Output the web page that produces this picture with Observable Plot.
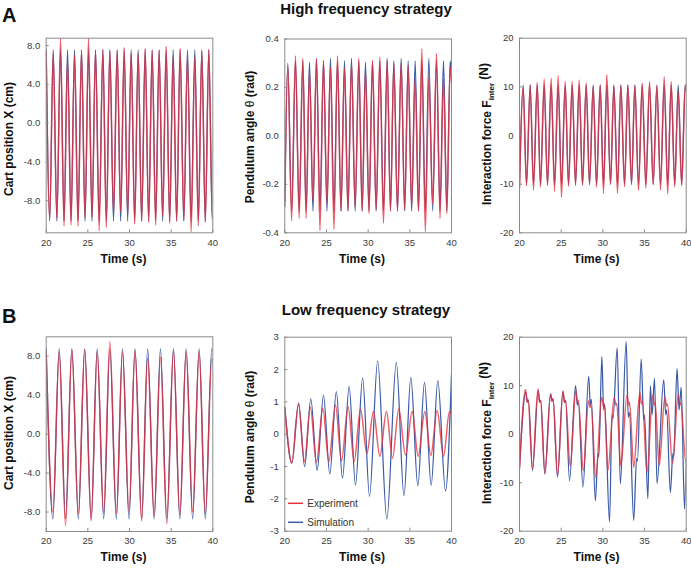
<!DOCTYPE html>
<html><head><meta charset="utf-8">
<script src="https://cdn.jsdelivr.net/npm/d3@7"></script>
<script src="https://cdn.jsdelivr.net/npm/@observablehq/plot@0.6"></script>
<style>
body{margin:0;background:#fff;}
#chart{position:relative;width:691px;height:568px;background:#fff;overflow:hidden;}
#chart svg{position:absolute;left:0;top:0;}
</style></head><body><div id="chart"></div>
<script>
// ---------- Data (extrema) ----------
const xTicks = [20, 25, 30, 35, 40];

// A1 cart position, high frequency
const a1Time = [20.00,20.42,20.84,21.28,21.72,22.14,22.56,22.98,23.40,23.82,24.24,24.66,25.08,25.50,25.92,26.36,26.80,27.22,27.64,28.08,28.52,28.94,29.36,29.78,30.20,30.62,31.04,31.46,31.88,32.30,32.72,33.14,33.56,33.98,34.40,34.82,35.24,35.66,36.08,36.52,36.96,37.40,37.84,38.26,38.68,39.10,39.52,39.94,40.00];
const a1Exp = [7.3,-9.8,7.2,-9.8,8.75,-10.6,6.5,-10.5,7.0,-10.6,7.5,-9.8,8.75,-9.7,7.5,-11.1,7.6,-10.7,7.5,-9.3,7.5,-9.2,7.8,-9.4,7.2,-10.4,7.2,-10.1,7.7,-10.2,7.5,-10.5,7.5,-9.6,7.9,-10.3,6.8,-10.1,7.7,-10.0,6.8,-11.2,6.7,-10.6,7.4,-10.2,7.6,-9.8,-9.6];
const a1Sim = [7.55,-10.1,7.55,-10.1,7.55,-10.1,7.55,-10.1,7.55,-10.1,7.55,-10.1,7.55,-10.1,7.55,-10.1,7.55,-10.1,7.55,-10.1,7.55,-10.1,7.55,-10.1,7.55,-10.1,7.55,-10.1,7.55,-10.1,7.55,-10.1,7.55,-10.1,7.55,-10.1,7.55,-10.1,7.55,-10.1,7.55,-10.1,7.55,-10.1,7.55,-10.1,7.55,-10.1,-10.0];

// A2 pendulum angle, high frequency
const a2Time = [20.00,20.36,20.82,21.28,21.72,22.16,22.56,22.96,23.38,23.80,24.22,24.64,25.06,25.48,25.90,26.32,26.74,27.16,27.58,28.00,28.44,28.88,29.28,29.68,30.10,30.52,30.96,31.40,31.84,32.28,32.68,33.08,33.52,33.96,34.38,34.80,35.22,35.64,36.04,36.44,36.86,37.28,37.74,38.20,38.62,39.04,39.44,39.84,40.00];
const a2Exp = [-0.27,0.29,-0.35,0.33,-0.34,0.32,-0.34,0.27,-0.27,0.32,-0.39,0.31,-0.275,0.285,-0.385,0.33,-0.31,0.28,-0.31,0.30,-0.29,0.32,-0.31,0.27,-0.32,0.31,-0.305,0.325,-0.36,0.31,-0.31,0.30,-0.31,0.30,-0.305,0.29,-0.29,0.236,-0.31,0.36,-0.395,0.24,-0.28,0.34,-0.34,0.236,-0.32,0.285,0.22];
const a2Sim = [-0.29,0.30,-0.31,0.31,-0.31,0.31,-0.31,0.305,-0.31,0.32,-0.31,0.31,-0.31,0.32,-0.31,0.31,-0.31,0.31,-0.31,0.32,-0.31,0.31,-0.31,0.305,-0.31,0.31,-0.31,0.31,-0.31,0.32,-0.31,0.31,-0.31,0.32,-0.31,0.31,-0.31,0.31,-0.31,0.31,-0.31,0.32,-0.31,0.31,-0.31,0.31,-0.31,0.31,0.24];

// A3 interaction force, high frequency
const a3Time = [20.00,20.44,20.84,21.28,21.68,22.12,22.52,22.96,23.36,23.80,24.20,24.64,25.04,25.48,25.88,26.32,26.72,27.16,27.56,28.00,28.40,28.84,29.24,29.68,30.08,30.48,30.92,31.32,31.76,32.16,32.60,33.00,33.44,33.84,34.28,34.72,35.16,35.60,36.04,36.48,36.92,37.36,37.78,38.20,38.62,39.04,39.46,39.88,40.00];
const a3Exp = [-10.8,9.7,-10.3,10.4,-11.2,10.9,-10.6,11.6,-10.3,11.8,-11.5,12.3,-12.7,11.1,-10.5,11.1,-10.3,11.4,-10.3,10.8,-10.1,10.1,-10.6,10.4,-11.9,12.5,-10.0,10.1,-11.9,10.4,-10.5,10.4,-10.0,10.4,-11.3,10.8,-10.8,11.1,-10.1,10.2,-11.2,12.1,-12.0,11.1,-10.6,9.0,-10.3,10.4,9.0];
const a3Sim = [-10.3,10.4,-10.1,10.4,-10.1,10.4,-10.1,10.4,-10.1,10.4,-10.1,10.4,-10.1,10.4,-10.1,10.4,-10.1,10.4,-10.1,10.4,-10.1,10.4,-10.1,10.4,-10.1,10.4,-10.1,10.4,-10.1,10.4,-10.1,10.4,-10.1,10.4,-10.1,10.4,-10.1,10.4,-10.1,10.4,-10.1,10.4,-10.1,10.4,-10.1,10.4,-10.1,10.4,9.2];

// B1 cart position, low frequency
const b1Time = [20.00,20.80,21.56,22.32,23.08,23.86,24.62,25.40,26.12,26.90,27.64,28.42,29.16,29.94,30.66,31.46,32.18,32.96,33.72,34.48,35.28,36.04,36.80,37.58,38.36,39.10,39.88,40.00];
const b1Exp = [8.3,-8.0,8.45,-9.4,8.7,-8.2,8.7,-8.9,8.45,-8.1,9.5,-8.2,8.45,-7.9,8.6,-8.9,7.8,-8.4,7.9,-9.2,8.6,-8.3,8.5,-8.0,8.5,-8.2,7.75,7.5];
const b1Sim = [8.75,-8.7,8.75,-8.7,8.75,-8.7,8.75,-8.7,8.75,-8.7,8.75,-8.7,8.75,-8.7,8.75,-8.7,8.75,-8.7,8.75,-8.7,8.75,-8.7,8.75,-8.7,8.75,-8.7,8.75,8.5];

// B2 pendulum angle, low frequency
const b2ExpTime = [20.00,20.84,21.64,22.36,23.06,23.80,24.56,25.28,26.08,26.80,27.60,28.32,29.08,29.84,30.64,31.40,32.20,32.92,33.68,34.48,35.28,36.00,36.80,37.52,38.28,39.04,39.76,40.00];
const b2Exp = [0.83,-0.89,0.93,-0.85,0.83,-0.87,0.80,-0.85,0.90,-0.82,0.85,-0.85,0.78,-0.60,0.70,-0.68,0.70,-0.74,0.78,-0.64,0.70,-0.68,0.70,-0.66,0.73,-0.68,0.70,0.62];
const b2SimTime = [20.00,20.84,21.66,22.38,23.12,23.88,24.64,25.40,26.18,26.92,27.72,28.48,29.34,30.16,31.14,32.24,33.38,34.30,35.12,35.96,36.76,37.56,38.36,39.28,40.00];
const b2Sim = [0.83,-0.89,0.96,-1.0,1.09,-1.12,1.2,-1.23,1.32,-1.36,1.48,-1.57,1.74,-1.92,2.26,-2.62,2.21,-1.9,1.76,-1.6,1.6,-1.58,1.66,-1.75,1.85];

// B3 interaction force, low frequency
const b3ExpTime = [20.0,20.72,20.9,21.02,21.56,22.22,22.4,22.52,23.04,23.74,23.92,24.04,24.56,25.22,25.4,25.52,26.08,26.76,26.96,27.06,27.66,28.28,28.46,28.58,29.16,29.86,30.06,30.18,30.6,31.36,31.56,31.66,32.16,32.9,33.1,33.2,33.7,34.44,34.64,34.74,35.3,35.98,36.18,36.28,36.76,37.44,37.64,37.74,38.36,39.04,39.24,39.34,39.96,40.0];
const b3Exp = [-7.1,9.2,6.6,7.2,-7.1,9.3,6.6,7.0,-8.1,8.3,6.8,7.3,-8.5,8.9,6.6,7.0,-6.5,9.0,6.5,7.0,-7.5,6.9,5.5,6.0,-8.9,7.6,5.8,6.2,-7.5,7.6,6.0,6.4,-6.5,8.1,6.0,6.6,-6.8,8.6,6.2,6.8,-7.8,8.0,6.0,6.5,-6.5,7.6,5.8,6.3,-6.1,8.1,6.0,6.5,-5.8,-5.6];
const b3SimTime = [20.0,20.76,20.96,21.08,21.56,22.24,22.44,22.56,23.04,23.72,23.9,24.02,24.56,25.2,25.42,25.54,26.0,26.72,26.94,27.06,27.62,28.3,28.5,28.62,29.1,29.42,29.52,29.88,30.1,30.22,30.8,31.1,31.22,31.72,32.1,32.8,33.05,33.18,33.7,34.05,34.15,34.6,34.9,35.0,35.4,35.7,35.9,36.2,36.5,37.3,37.55,37.65,38.1,38.4,38.5,38.9,39.15,39.4,39.8,40.0];
const b3Sim = [-7.1,8.7,6.6,7.0,-7.5,9.0,6.6,6.9,-8.2,8.3,6.8,7.3,-8.9,8.8,6.5,7.0,-9.6,10.0,6.0,6.6,-10.9,12.0,6.0,7.2,-13.7,-4.0,-4.6,16.0,5.0,6.2,-18.1,4.0,3.2,17.8,-10.2,19.1,3.5,4.5,-17.8,-5.0,-5.5,15.5,3.0,4.0,-13.3,10.0,4.0,11.5,-10.2,11.2,4.0,5.0,-12.0,-4.0,-4.5,13.5,5.0,9.7,-15.4,-5.0];

// ---------- Layout ----------
const W = 691, H = 568;
const RED = "#e4323e", BLUE = "#3b5ba8";
const f1 = d => d.toFixed(1);
const f0 = d => String(d);

const panels = [
  {frame:[45.7,212.3,37.7,232.3], y:[-11.3,8.76], yTicks:[-8,-4,0,4,8], fmt:f1, simT:a1Time, sim:a1Sim, expT:a1Time, exp:a1Exp},
  {frame:[284.3,451,38.5,232.3], y:[-0.4,0.4], yTicks:[-0.4,-0.2,0,0.2,0.4], fmt:f1, simT:a2Time, sim:a2Sim, expT:a2Time, exp:a2Exp},
  {frame:[519,685.7,37.7,232.3], y:[-20,20], yTicks:[-20,-10,0,10,20], fmt:f0, simT:a3Time, sim:a3Sim, expT:a3Time, exp:a3Exp},
  {frame:[45.7,212.3,336.3,531], y:[-10,10], yTicks:[-8,-4,0,4,8], fmt:f1, simT:b1Time, sim:b1Sim, expT:b1Time, exp:b1Exp},
  {frame:[284.3,451,336.7,530.7], y:[-3,3], yTicks:[-3,-2,-1,0,1,2,3], fmt:f0, simT:b2SimTime, sim:b2Sim, expT:b2ExpTime, exp:b2Exp},
  {frame:[519,685.7,336.7,530.7], y:[-20,20], yTicks:[-20,-10,0,10,20], fmt:f0, simT:b3SimTime, sim:b3Sim, expT:b3ExpTime, exp:b3Exp}
];

const rows = (t, v) => t.map((d, i) => ({t: d, v: v[i]})).filter(d => d.v !== undefined);
const chart = document.getElementById("chart");

for (const p of panels) {
  const [l, r, t, b] = p.frame;
  const plotH = b - t, plotW = r - l;
  const svg = Plot.plot({
    width: W, height: H,
    marginLeft: l, marginRight: W - r, marginTop: t, marginBottom: H - b,
    style: {background: "transparent", fontFamily: "'Liberation Sans', Arial, sans-serif", fontSize: "9.5px", color: "#3a3a3a", overflow: "visible"},
    x: {domain: [20, 40]},
    y: {domain: p.y},
    marks: [
      Plot.line(rows(p.simT, p.sim), {x: "t", y: "v", stroke: BLUE, strokeWidth: 1.25, curve: "monotone-x", clip: true}),
      Plot.line(rows(p.expT, p.exp), {x: "t", y: "v", stroke: RED, strokeWidth: 1.5, strokeOpacity: 0.78, curve: "monotone-x", clip: true}),
      Plot.frame({stroke: "#8a8a8a", strokeWidth: 1}),
      Plot.ruleX(xTicks, {stroke: "#8a8a8a", insetTop: plotH - 3}),
      Plot.ruleY(p.yTicks, {stroke: "#8a8a8a", insetRight: plotW - 3}),
      Plot.axisX({ticks: xTicks, tickSize: 0, tickPadding: 6, label: null, tickFormat: f0}),
      Plot.axisY({ticks: p.yTicks, tickSize: 0, tickPadding: 6, label: null, tickFormat: p.fmt})
    ]
  });
  chart.appendChild(svg);
}

// ---------- Text overlay ----------
const ov = d3.select(chart).append("svg").attr("width", W).attr("height", H)
  .style("font-family", "'Liberation Sans', Arial, sans-serif").style("font-weight", "bold").attr("fill", "#111");

ov.append("text").attr("x", 2).attr("y", 22).attr("font-size", 20).text("A");
ov.append("text").attr("x", 2).attr("y", 323).attr("font-size", 20).text("B");
ov.append("text").attr("x", 366).attr("y", 14).attr("font-size", 15).attr("text-anchor", "middle").text("High frequency strategy");
ov.append("text").attr("x", 366).attr("y", 315).attr("font-size", 15).attr("text-anchor", "middle").text("Low frequency strategy");

const timeLabels = [[123.5, 263], [362, 263], [596.5, 263], [123.5, 561], [362, 561], [596.5, 561]];
for (const [x, y] of timeLabels) {
  ov.append("text").attr("x", x).attr("y", y).attr("font-size", 12).attr("text-anchor", "middle").text("Time (s)");
}

function yLabel(x, y, kind) {
  const g = ov.append("text").attr("transform", `translate(${x},${y}) rotate(-90)`)
    .attr("font-size", 12).attr("text-anchor", "middle").attr("dy", "0.35em");
  if (kind === "x") g.text("Cart position X (cm)");
  else if (kind === "theta") {
    g.append("tspan").text("Pendulum angle ");
    g.append("tspan").attr("font-weight", "normal").text("θ");
    g.append("tspan").text(" (rad)");
  } else {
    g.append("tspan").text("Interaction force F");
    g.append("tspan").attr("font-size", 8).attr("dy", "0.3em").text("inter");
    g.append("tspan").attr("dy", "-0.45em").text(" (N)");
  }
}
yLabel(9, 139, "x"); yLabel(250, 137, "theta"); yLabel(487, 134, "f");
yLabel(9, 433, "x"); yLabel(250, 437, "theta"); yLabel(487, 433, "f");

// legend
const leg = ov.append("g").attr("font-weight", "normal").attr("font-size", 10).attr("fill", "#333");
leg.append("line").attr("x1", 288).attr("x2", 303).attr("y1", 503.3).attr("y2", 503.3).attr("stroke", RED).attr("stroke-width", 1.5);
leg.append("text").attr("x", 307.3).attr("y", 503.3).attr("dy", "0.35em").text("Experiment");
leg.append("line").attr("x1", 288).attr("x2", 303).attr("y1", 522.3).attr("y2", 522.3).attr("stroke", BLUE).attr("stroke-width", 1.5);
leg.append("text").attr("x", 307.3).attr("y", 522.3).attr("dy", "0.35em").text("Simulation");
</script></body></html>
